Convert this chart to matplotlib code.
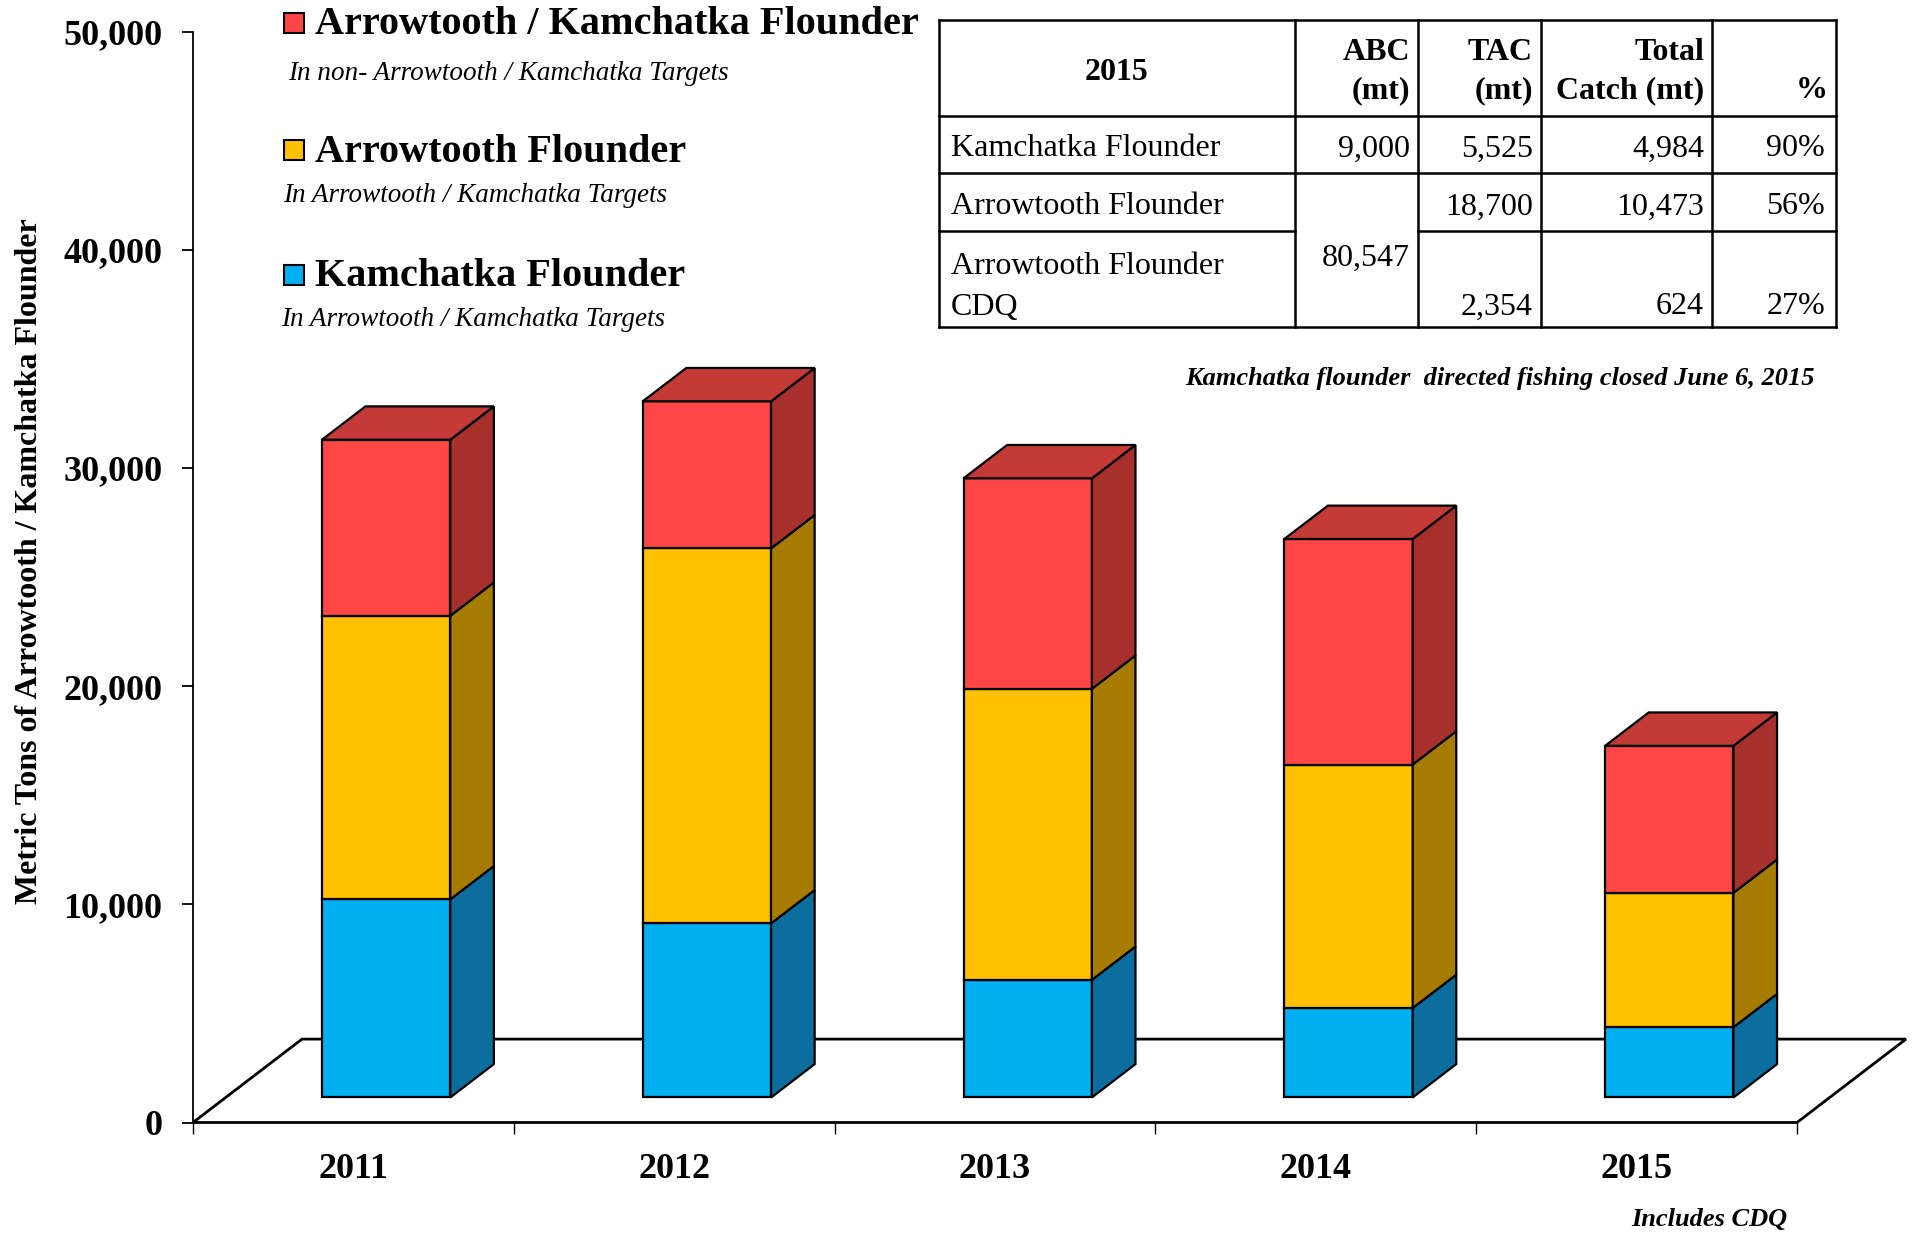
"""
Arrowtooth / Kamchatka flounder catch, 2011-2015, drawn as Excel-style 3D stacked bars
with the 2015 ABC / TAC / catch table on top.
"""

import matplotlib
matplotlib.use("Agg")
import matplotlib.pyplot as plt
from matplotlib.patches import Polygon, Rectangle
from matplotlib.ticker import FuncFormatter, MultipleLocator

# ─── Data ─────────────────────────────────────────────────────────────────────

years = ["2011", "2012", "2013", "2014", "2015"]

kamchatka_in_targets  = [9080, 7980, 5390, 4100, 3220]
arrowtooth_in_targets = [13000, 17190, 13340, 11160, 6160]
both_non_targets      = [8070, 6740, 9650, 10340, 6740]

legend_titles = ["Arrowtooth / Kamchatka Flounder", "Arrowtooth Flounder", "Kamchatka Flounder"]
legend_subs   = ["In non- Arrowtooth / Kamchatka Targets",
                 "In Arrowtooth / Kamchatka Targets",
                 "In Arrowtooth / Kamchatka Targets"]

table_header = ["2015", "ABC\n(mt)", "TAC\n(mt)", "Total\nCatch (mt)", "%"]
table_species = ["Kamchatka Flounder", "Arrowtooth Flounder", "Arrowtooth Flounder\nCDQ"]
table_abc   = ["9,000", "80,547"]
table_tac   = ["5,525", "18,700", "2,354"]
table_catch = ["4,984", "10,473", "624"]
table_pct   = ["90%", "56%", "27%"]

# ─── Style ────────────────────────────────────────────────────────────────────

W, H = 1913, 1233
SERIF = "Liberation Serif"

# (front, side, top) shades per series, bottom to top
COLORS = [
    ("#00B0F0", "#0B6E9E", "#0B6E9E"),
    ("#FFC000", "#A67C00", "#A67C00"),
    ("#FF4545", "#A8302C", "#C43A36"),
]

Y0_PX, Y50_PX = 1122.5, 31.7        # pixel rows of 0 and 50,000
FLOOR_DX = 109 / 320.8              # floor depth, x in category units
FLOOR_DY = 83.4 / ((Y0_PX - Y50_PX) / 50000)
BAR_F0, BAR_F1 = 0.30, 0.70         # bar front / back as fraction of floor depth
BAR_W = 0.40

plt.rcParams["font.family"] = [SERIF, "DejaVu Serif"]

fig = plt.figure(figsize=(W / 100, H / 100), dpi=100)

# chart axes placed so that x=0..5 / y=0..50000 land on the reference pixels
ax = fig.add_axes([193 / W, (H - Y0_PX) / H, (1797 - 193) / W, (Y0_PX - Y50_PX) / H])
ax.set_xlim(0, 5)
ax.set_ylim(0, 50000)
ax.set_facecolor("none")
for s in ["top", "right", "bottom"]:
    ax.spines[s].set_visible(False)
ax.spines["left"].set_linewidth(1.3)

ax.yaxis.set_major_locator(MultipleLocator(10000))
ax.yaxis.set_major_formatter(FuncFormatter(lambda v, p: f"{int(v):,}"))
ax.tick_params(axis="y", direction="out", length=8, width=1.3, pad=14,
               labelsize=26)
for lab in ax.get_yticklabels():
    lab.set_fontweight("bold")

ax.set_xticks(range(6))
ax.set_xticklabels([])
ax.set_xticks([i + 0.5 for i in range(len(years))], minor=True)
ax.set_xticklabels(years, minor=True, fontsize=26, fontweight="bold")
ax.tick_params(axis="x", which="major", direction="out", length=8, width=1.0)
ax.tick_params(axis="x", which="minor", length=0, pad=22)

ax.set_ylabel("Metric Tons of Arrowtooth / Kamchatka Flounder",
              fontsize=23, fontweight="bold")
ax.yaxis.set_label_coords(-(193 - 44) / 1604, (Y0_PX - 561) / (Y0_PX - Y50_PX))

# floor
floor = Polygon([(0, 0), (5, 0), (5 + FLOOR_DX, FLOOR_DY), (FLOOR_DX, FLOOR_DY)],
                closed=True, facecolor="white", edgecolor="black", lw=2.0,
                clip_on=False, zorder=1)
ax.add_patch(floor)

# bars
fx0, fy0 = BAR_F0 * FLOOR_DX, BAR_F0 * FLOOR_DY
fx1, fy1 = BAR_F1 * FLOOR_DX, BAR_F1 * FLOOR_DY
series = [kamchatka_in_targets, arrowtooth_in_targets, both_non_targets]

for i in range(len(years)):
    x0 = i + 0.5 - BAR_W / 2
    x1 = i + 0.5 + BAR_W / 2
    base = 0
    for k, vals in enumerate(series):
        top = base + vals[i]
        front, side, topc = COLORS[k]
        ax.add_patch(Polygon([(x0 + fx0, base + fy0), (x1 + fx0, base + fy0),
                              (x1 + fx0, top + fy0), (x0 + fx0, top + fy0)],
                             closed=True, facecolor=front, edgecolor="black",
                             lw=1.6, zorder=3, clip_on=False))
        ax.add_patch(Polygon([(x1 + fx0, base + fy0), (x1 + fx1, base + fy1),
                              (x1 + fx1, top + fy1), (x1 + fx0, top + fy0)],
                             closed=True, facecolor=side, edgecolor="black",
                             lw=1.6, zorder=3, clip_on=False))
        if k == len(series) - 1:
            ax.add_patch(Polygon([(x0 + fx0, top + fy0), (x1 + fx0, top + fy0),
                                  (x1 + fx1, top + fy1), (x0 + fx1, top + fy1)],
                                 closed=True, facecolor=topc, edgecolor="black",
                                 lw=1.6, zorder=3, clip_on=False))
        base = top

# ─── Overlay in pixel coordinates: legend, table, notes ──────────────────────

ov = fig.add_axes([0, 0, 1, 1])
ov.set_xlim(0, W)
ov.set_ylim(H, 0)
ov.axis("off")
ov.set_facecolor("none")

legend_rows = [(25, 74, 288), (152, 196, 283), (277, 320, 281)]
legend_colors = [COLORS[2][0], COLORS[1][0], COLORS[0][0]]
for (ty, sy, sx), title, sub, col in zip(legend_rows, legend_titles, legend_subs, legend_colors):
    ov.add_patch(Rectangle((284, ty - 12), 20, 20, facecolor=col,
                           edgecolor="black", lw=1.5))
    ov.text(315, ty, title, fontsize=29, fontweight="bold", va="center", ha="left")
    ov.text(sx, sy, sub, fontsize=19.5, style="italic", va="center", ha="left")

# table grid
col_x = [939, 1295, 1418, 1541, 1712, 1836]
row_y = [20, 116, 173, 231, 327]
LW_T = 1.8
for y in [row_y[0], row_y[1], row_y[2], row_y[4]]:
    ov.plot([col_x[0], col_x[-1]], [y, y], color="black", lw=LW_T)
ov.plot([col_x[0], col_x[1]], [row_y[3]] * 2, color="black", lw=LW_T)
ov.plot([col_x[2], col_x[-1]], [row_y[3]] * 2, color="black", lw=LW_T)
for x in col_x:
    ov.plot([x, x], [row_y[0], row_y[-1]], color="black", lw=LW_T)

TFS = 23
PAD_R = 8
# header
ov.text((col_x[0] + col_x[1]) / 2, 73, table_header[0], fontsize=TFS,
        fontweight="bold", ha="center", va="center")
for j, hdr in enumerate(table_header[1:], start=1):
    lines = hdr.split("\n")
    ys = [91] if len(lines) == 1 else [53, 91]
    for ln, yy in zip(lines, ys):
        ov.text(col_x[j + 1] - PAD_R, yy, ln, fontsize=TFS, fontweight="bold",
                ha="right", va="center")

# body
row_mid = [149, 207, 307]
ov.text(951, row_mid[0], table_species[0], fontsize=TFS, ha="left", va="center")
ov.text(951, row_mid[1], table_species[1], fontsize=TFS, ha="left", va="center")
cdq_lines = table_species[2].split("\n")
ov.text(951, 267, cdq_lines[0], fontsize=TFS, ha="left", va="center")
ov.text(951, 307, cdq_lines[1], fontsize=TFS, ha="left", va="center")

ov.text(col_x[2] - PAD_R, row_mid[0], table_abc[0], fontsize=TFS, ha="right", va="center")
ov.text(col_x[2] - PAD_R, 258, table_abc[1], fontsize=TFS, ha="right", va="center")
for r in range(3):
    ov.text(col_x[3] - PAD_R, row_mid[r], table_tac[r], fontsize=TFS, ha="right", va="center")
    ov.text(col_x[4] - PAD_R, row_mid[r], table_catch[r], fontsize=TFS, ha="right", va="center")
    ov.text(col_x[5] - PAD_R - 3, row_mid[r], table_pct[r], fontsize=TFS, ha="right", va="center")

ov.text(1815, 378, "Kamchatka flounder  directed fishing closed June 6, 2015",
        fontsize=19, fontweight="bold", style="italic", ha="right", va="center")
ov.text(1787, 1220, "Includes CDQ", fontsize=19, fontweight="bold",
        style="italic", ha="right", va="center")

fig.savefig("out.png", dpi=100)
